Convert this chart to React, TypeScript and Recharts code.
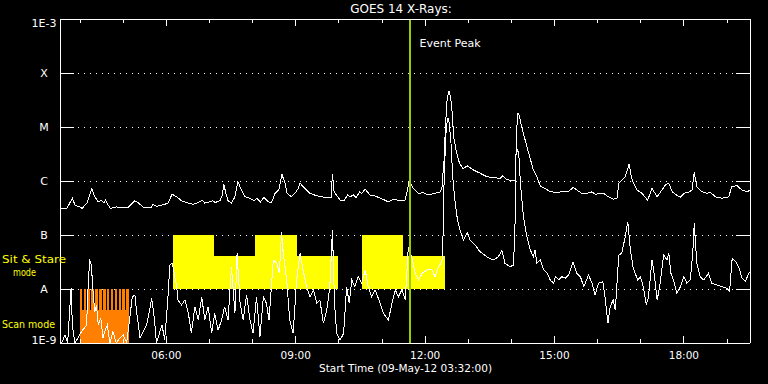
import React from 'react';
import {
  LineChart,
  Line,
  XAxis,
  YAxis,
  CartesianGrid,
  ReferenceArea,
  ReferenceLine,
} from 'recharts';

// ---- axes -------------------------------------------------------------
const X_DOMAIN: [number, number] = [3.5333, 19.5333]; // 03:32 -> 19:32 (hours of 09-May-12)
const HOUR_TICKS = [4, 5, 6, 7, 8, 9, 10, 11, 12, 13, 14, 15, 16, 17, 18, 19];
const MAJOR_HOURS = [6, 9, 12, 15, 18];
const FLUX_DOMAIN: [number, number] = [1e-9, 1e-3];
const FLUX_TICKS = [1e-9, 1e-8, 1e-7, 1e-6, 1e-5, 1e-4, 1e-3];
const FLUX_LABELS = ['1E-9', 'A', 'B', 'C', 'M', 'X', '1E-3'];

const TITLE = 'GOES 14 X-Rays:';
const X_TITLE = 'Start Time (09-May-12 03:32:00)';
const EVENT_PEAK_TIME = 11.64;
const EVENT_PEAK_LABEL = 'Event Peak';

// ---- instrument modes ------------------------------------------------------
const SIT_STARE_TALL: [number, number][] = [
  [6.15, 7.1],
  [8.06, 9.03],
  [10.54, 11.49],
];
const SIT_STARE_LOW: [number, number][] = [
  [7.1, 8.06],
  [9.03, 9.98],
  [11.49, 12.47],
];
const SIT_STARE_BASE = 1e-8;
const SIT_STARE_TALL_TOP = 1e-7;
const SIT_STARE_LOW_TOP = 4.1e-8;

const SCAN_SPAN: [number, number] = [3.99, 5.13];
const SCAN_TEETH: [number, number][] = [
  [3.99, 4.05], [4.08, 4.14], [4.17, 4.23], [4.26, 4.32], [4.35, 4.41],
  [4.44, 4.5], [4.53, 4.59], [4.62, 4.68], [4.71, 4.77], [4.8, 4.86],
  [4.89, 4.95], [4.98, 5.04], [5.07, 5.13],
];
const SCAN_BASE = 1e-9;
const SCAN_SOLID_TOP = 4.1e-9;
const SCAN_TOOTH_TOP = 1e-8;

// ---- X-ray flux (W/m^2): [hour, flux] ---------------------------------------
const LONG_CHANNEL: [number, number][] = [
  [3.55, 3.1e-7], [3.69, 3.1e-7], [3.76, 3.9e-7], [3.82, 4.8e-7], [3.88, 3.6e-7], [3.99, 3.3e-7],
  [4.05, 3.1e-7], [4.11, 3.6e-7], [4.16, 3.9e-7], [4.27, 7.3e-7], [4.34, 5.1e-7], [4.42, 4.1e-7],
  [4.5, 4.4e-7], [4.55, 3.9e-7], [4.59, 4.4e-7], [4.65, 3.6e-7], [4.7, 3.1e-7], [4.84, 3.3e-7],
  [5.11, 3.2e-7], [5.27, 4.3e-7], [5.34, 4.0e-7], [5.46, 3.3e-7], [5.65, 3.3e-7], [5.69, 3.7e-7],
  [5.77, 3.4e-7], [5.96, 3.7e-7], [6.04, 3.9e-7], [6.13, 5.7e-7], [6.24, 5.1e-7], [6.35, 4.3e-7],
  [6.51, 3.9e-7], [6.62, 3.7e-7], [6.74, 4.0e-7], [6.84, 4.4e-7], [6.89, 3.9e-7], [6.99, 4.1e-7],
  [7.07, 4.3e-7], [7.13, 4.0e-7], [7.24, 4.3e-7], [7.3, 5.5e-7], [7.33, 8.8e-7], [7.38, 5.9e-7],
  [7.43, 4.3e-7], [7.51, 3.9e-7], [7.59, 5.1e-7], [7.66, 9.7e-7], [7.74, 6.8e-7], [7.82, 5.1e-7],
  [7.94, 4.8e-7], [8.03, 4.3e-7], [8.1, 4.8e-7], [8.18, 4.1e-7], [8.26, 5.0e-7], [8.36, 4.1e-7],
  [8.44, 4.0e-7], [8.52, 5.9e-7], [8.61, 7.0e-7], [8.68, 1.33e-6], [8.75, 9.1e-7], [8.8, 5.9e-7],
  [8.9, 5.1e-7], [8.98, 5.9e-7], [9.06, 7.3e-7], [9.1, 9.1e-7], [9.21, 7.3e-7], [9.33, 5.9e-7],
  [9.49, 5.3e-7], [9.72, 4.9e-7], [9.82, 4.9e-7], [9.85, 1.35e-6], [9.89, 6.3e-7], [10.03, 4.4e-7],
  [10.12, 4.3e-7], [10.2, 5.5e-7], [10.26, 5.1e-7], [10.34, 5.5e-7], [10.4, 4.9e-7], [10.48, 6.3e-7],
  [10.53, 5.9e-7], [10.61, 7.1e-7], [10.72, 5.5e-7], [10.84, 5.3e-7], [10.96, 4.8e-7], [11.07, 4.4e-7],
  [11.15, 4.1e-7], [11.26, 4.6e-7], [11.38, 4.4e-7], [11.53, 4.4e-7], [11.59, 6.8e-7], [11.63, 9.7e-7],
  [11.73, 7.3e-7], [11.84, 5.9e-7], [11.96, 6.1e-7], [12.07, 5.5e-7], [12.23, 5.9e-7], [12.35, 6.3e-7],
  [12.39, 7.3e-7], [12.42, 1.6e-6], [12.44, 2.4e-6], [12.47, 1.0e-5], [12.51, 3.2e-5], [12.55, 4.7e-5],
  [12.59, 3.6e-5], [12.63, 1.8e-5], [12.66, 6.6e-6], [12.73, 3.3e-6], [12.8, 2.1e-6], [12.88, 1.7e-6],
  [12.98, 1.9e-6], [13.12, 1.6e-6], [13.27, 1.4e-6], [13.43, 1.2e-6], [13.62, 1.15e-6], [13.74, 1.12e-6],
  [13.8, 1.24e-6], [13.88, 1.07e-6], [14.05, 1.01e-6], [14.09, 1.01e-6], [14.11, 3.7e-6], [14.14, 1.8e-5],
  [14.17, 1.8e-5], [14.24, 1.0e-5], [14.32, 5.7e-6], [14.4, 3.3e-6], [14.51, 1.6e-6], [14.59, 1.2e-6],
  [14.67, 8.1e-7], [14.78, 7.3e-7], [14.9, 6.3e-7], [15.05, 6.2e-7], [15.21, 6.3e-7], [15.32, 6.3e-7],
  [15.43, 7.6e-7], [15.52, 6.8e-7], [15.63, 5.9e-7], [15.75, 5.9e-7], [15.87, 6.3e-7], [15.94, 5.7e-7],
  [16.14, 5.9e-7], [16.25, 5.1e-7], [16.37, 4.6e-7], [16.45, 4.8e-7], [16.49, 9.1e-7], [16.56, 1.04e-6],
  [16.64, 1.2e-6], [16.68, 1.49e-6], [16.73, 2.1e-6], [16.78, 1.2e-6], [16.83, 9.1e-7], [16.91, 6.8e-7],
  [17.03, 5.9e-7], [17.16, 4.4e-7], [17.26, 7.3e-7], [17.38, 5.1e-7], [17.49, 6.8e-7], [17.57, 8.4e-7],
  [17.65, 9.1e-7], [17.73, 6.3e-7], [17.83, 5.5e-7], [17.92, 5.0e-7], [18.0, 5.9e-7], [18.11, 6.2e-7],
  [18.19, 6.8e-7], [18.24, 1.45e-6], [18.3, 7.8e-7], [18.42, 6.3e-7], [18.54, 5.9e-7], [18.61, 6.2e-7],
  [18.73, 5.1e-7], [18.88, 4.8e-7], [19.04, 5.1e-7], [19.11, 7.8e-7], [19.23, 8.2e-7], [19.35, 6.8e-7],
  [19.46, 6.3e-7], [19.54, 6.8e-7],
];

const SHORT_CHANNEL: [number, number][] = [
  [3.57, 1.0e-9], [3.65, 1.41e-9], [3.71, 1.0e-9], [3.79, 1.03e-8], [3.82, 2.15e-9], [3.88, 1.0e-9],
  [3.95, 1.24e-9], [4.03, 1.62e-9], [4.15, 2.15e-9], [4.18, 8.9e-9], [4.22, 3.55e-8], [4.26, 2.78e-8],
  [4.3, 8.9e-9], [4.34, 3.8e-9], [4.38, 5.06e-9], [4.42, 2.15e-9], [4.48, 2.87e-9], [4.53, 1.22e-9],
  [4.57, 1.62e-9], [4.63, 2.15e-9], [4.69, 1.0e-9], [4.76, 1.62e-9], [4.84, 1.0e-9], [4.92, 1.24e-9],
  [5.0, 1.41e-9], [5.08, 1.0e-9], [5.15, 2.87e-9], [5.21, 7.2e-9], [5.27, 7.74e-9], [5.31, 3.8e-9],
  [5.39, 1.24e-9], [5.46, 1.62e-9], [5.54, 2.15e-9], [5.62, 4.4e-9], [5.66, 6.7e-9], [5.72, 2.87e-9],
  [5.77, 1.0e-9], [5.85, 1.62e-9], [5.9, 2.15e-9], [5.96, 1.14e-9], [6.03, 5.8e-9], [6.08, 2.78e-8],
  [6.13, 2.99e-8], [6.16, 2.42e-8], [6.24, 1.1e-8], [6.27, 6.25e-9], [6.35, 5.06e-9], [6.43, 6.25e-9],
  [6.51, 3.55e-9], [6.58, 1.51e-9], [6.66, 4.7e-9], [6.74, 2.67e-9], [6.82, 7.2e-9], [6.89, 2.67e-9],
  [6.97, 4.7e-9], [7.05, 1.51e-9], [7.12, 3.55e-9], [7.2, 1.74e-9], [7.28, 2.67e-9], [7.35, 4.7e-9],
  [7.43, 2.67e-9], [7.51, 2.59e-8], [7.59, 3.55e-9], [7.64, 4.58e-8], [7.71, 5.43e-9], [7.78, 2.67e-9],
  [7.86, 7.74e-9], [7.94, 2.67e-9], [8.01, 1.51e-9], [8.09, 7.2e-9], [8.17, 1.31e-9], [8.25, 7.2e-9],
  [8.32, 5.43e-9], [8.38, 2.67e-9], [8.48, 3.44e-8], [8.56, 2.99e-8], [8.62, 1.95e-8], [8.67, 1.15e-7],
  [8.71, 4.58e-8], [8.79, 1.47e-8], [8.86, 2.67e-9], [8.94, 1.51e-9], [9.02, 1.47e-8], [9.1, 4.58e-8],
  [9.17, 2.25e-8], [9.25, 1.1e-8], [9.33, 7.2e-9], [9.41, 9.6e-9], [9.49, 5.43e-9], [9.56, 6.25e-9],
  [9.64, 2.32e-9], [9.72, 4.08e-9], [9.79, 1.1e-8], [9.85, 1.24e-7], [9.9, 5.43e-9], [9.95, 1.51e-9],
  [10.03, 1.14e-9], [10.11, 1.51e-9], [10.18, 1.1e-8], [10.24, 5.43e-9], [10.3, 1.47e-8], [10.37, 1.1e-8],
  [10.45, 1.69e-8], [10.53, 1.28e-8], [10.61, 2.25e-8], [10.68, 1.1e-8], [10.76, 7.2e-9], [10.84, 9.6e-9],
  [10.96, 5.43e-9], [11.03, 3.55e-9], [11.15, 2.67e-9], [11.23, 5.43e-9], [11.31, 9.6e-9], [11.38, 7.2e-9],
  [11.46, 9.6e-9], [11.54, 6.25e-9], [11.61, 6.0e-8], [11.69, 3.96e-8], [11.77, 1.95e-8], [11.85, 1.47e-8],
  [11.93, 1.95e-8], [12.04, 2.25e-8], [12.16, 2.25e-8], [12.23, 1.69e-8], [12.31, 2.59e-8], [12.39, 3.2e-8],
  [12.43, 1.9e-7], [12.44, 1.2e-6], [12.49, 1.0e-5], [12.53, 1.45e-5], [12.56, 1.17e-5], [12.6, 5.0e-6],
  [12.64, 1.2e-6], [12.69, 4.45e-7], [12.75, 1.9e-7], [12.81, 1.24e-7], [12.89, 8.07e-8], [12.98, 1.1e-7],
  [13.04, 8.07e-8], [13.16, 6.53e-8], [13.27, 4.91e-8], [13.43, 3.96e-8], [13.58, 3.44e-8], [13.7, 3.96e-8],
  [13.78, 5.27e-8], [13.85, 2.99e-8], [13.97, 2.59e-8], [14.05, 2.78e-8], [14.09, 2.18e-7], [14.11, 4.2e-6],
  [14.17, 3.3e-6], [14.21, 9.06e-7], [14.28, 2.18e-7], [14.36, 9.3e-8], [14.44, 5.27e-8], [14.51, 3.96e-8],
  [14.55, 5.27e-8], [14.59, 2.99e-8], [14.67, 3.44e-8], [14.75, 2.25e-8], [14.83, 1.95e-8], [14.9, 1.47e-8],
  [14.98, 1.28e-8], [15.02, 1.69e-8], [15.1, 1.47e-8], [15.17, 1.69e-8], [15.25, 1.58e-8], [15.33, 1.82e-8],
  [15.43, 3.2e-8], [15.52, 1.95e-8], [15.6, 1.69e-8], [15.68, 1.1e-8], [15.79, 1.82e-8], [15.87, 1.28e-8],
  [15.94, 7.74e-9], [16.02, 1.28e-8], [16.12, 1.37e-8], [16.18, 6.25e-9], [16.24, 2.32e-9], [16.29, 4.7e-9],
  [16.36, 6.25e-9], [16.41, 4.08e-9], [16.49, 4.26e-8], [16.56, 4.58e-8], [16.64, 9.3e-8], [16.7, 1.76e-7],
  [16.76, 5.27e-8], [16.82, 2.59e-8], [16.87, 1.95e-8], [16.93, 1.47e-8], [16.99, 1.69e-8], [17.06, 1.1e-8],
  [17.13, 5.06e-9], [17.18, 7.2e-9], [17.26, 3.44e-8], [17.31, 1.95e-8], [17.38, 6.25e-9], [17.44, 1.1e-8],
  [17.53, 4.26e-8], [17.61, 3.44e-8], [17.65, 4.58e-8], [17.7, 1.95e-8], [17.76, 1.47e-8], [17.84, 8.3e-9],
  [17.92, 1.1e-8], [18.0, 1.69e-8], [18.07, 1.28e-8], [18.15, 1.47e-8], [18.21, 5.27e-8], [18.24, 1.65e-7],
  [18.3, 2.99e-8], [18.38, 1.69e-8], [18.46, 1.47e-8], [18.57, 1.95e-8], [18.65, 1.28e-8], [18.77, 1.19e-8],
  [18.88, 1.1e-8], [19.0, 1.03e-8], [19.06, 8.9e-9], [19.12, 3.7e-8], [19.2, 3.2e-8], [19.27, 2.59e-8],
  [19.35, 1.58e-8], [19.43, 1.37e-8], [19.5, 1.95e-8], [19.54, 2.09e-8],
];

// ---- styling ---------------------------------------------------------------
const FONT = 'DejaVu Sans';
const WHITE = '#ffffff';
const YELLOW = '#ffff00';
const ORANGE = '#ff8000';
const GREEN = '#99cc00';

const longData = LONG_CHANNEL.map(([t, flux]) => ({ t, flux }));
const shortData = SHORT_CHANNEL.map(([t, flux]) => ({ t, flux }));

const hourLabel = (h: number) => `${String(h).padStart(2, '0')}:00`;
const fluxLabel = (v: number) => {
  const i = FLUX_TICKS.findIndex((f) => Math.abs(Math.log10(f) - Math.log10(v)) < 1e-6);
  return i >= 0 ? FLUX_LABELS[i] : '';
};

const BottomTick = (props: any) => {
  const { x, y, payload } = props;
  const major = MAJOR_HOURS.includes(payload.value);
  return (
    <g>
      <line x1={x} x2={x} y1={y} y2={y - (major ? 7 : 4)} stroke={WHITE} />
      {major && (
        <text x={x} y={y + 16} textAnchor="middle" fill={WHITE} fontSize={10.5} fontFamily={FONT}>
          {hourLabel(payload.value)}
        </text>
      )}
    </g>
  );
};

const TopTick = (props: any) => {
  const { x, y, payload } = props;
  const major = MAJOR_HOURS.includes(payload.value);
  return <line x1={x} x2={x} y1={y} y2={y + (major ? 7 : 4)} stroke={WHITE} />;
};

const LeftTick = (props: any) => {
  const { x, y, payload, index } = props;
  const last = FLUX_TICKS.length - 1;
  const dy = index === last ? 8 : index === 0 ? 1 : 4;
  return (
    <g>
      <line x1={x} x2={x + 14} y1={y} y2={y} stroke={WHITE} />
      <text x={x - 16} y={y + dy} textAnchor="middle" fill={WHITE} fontSize={11} fontFamily={FONT}>
        {fluxLabel(payload.value)}
      </text>
    </g>
  );
};

const RightTick = (props: any) => {
  const { x, y } = props;
  return <line x1={x - 14} x2={x} y1={y} y2={y} stroke={WHITE} />;
};

const EventLabel = (props: any) => {
  const vb = props.viewBox;
  if (!vb) return null;
  return (
    <text x={vb.x + 10} y={vb.y + 28} fill={WHITE} fontSize={11} fontFamily={FONT}>
      {EVENT_PEAK_LABEL}
    </text>
  );
};

export default function App() {
  return (
    <div
      className="goes-root"
      style={{ position: 'absolute', left: 0, top: 0, width: 768, height: 384, background: '#000', overflow: 'hidden' }}
    >
      <style>{`.goes-root svg line, .goes-root svg path, .goes-root svg rect { shape-rendering: crispEdges; }`}</style>
      <LineChart width={768} height={384} margin={{ top: 0, right: 0, bottom: 0, left: 0 }} style={{ background: '#000' }}>
        <XAxis
          xAxisId={0}
          dataKey="t"
          type="number"
          domain={X_DOMAIN}
          allowDataOverflow
          ticks={HOUR_TICKS}
          interval={0}
          height={41}
          tickSize={0}
          tickMargin={0}
          tickLine={false}
          axisLine={{ stroke: WHITE }}
          tick={<BottomTick />}
        />
        <XAxis
          xAxisId="top"
          orientation="top"
          dataKey="t"
          type="number"
          domain={X_DOMAIN}
          allowDataOverflow
          ticks={HOUR_TICKS}
          interval={0}
          height={19}
          tickSize={0}
          tickMargin={0}
          tickLine={false}
          axisLine={{ stroke: WHITE }}
          tick={<TopTick />}
        />
        <YAxis
          yAxisId={0}
          scale="log"
          type="number"
          domain={FLUX_DOMAIN}
          allowDataOverflow
          ticks={FLUX_TICKS}
          interval={0}
          width={60}
          tickSize={0}
          tickMargin={0}
          tickLine={false}
          axisLine={{ stroke: WHITE }}
          tick={<LeftTick />}
        />
        <YAxis
          yAxisId="right"
          orientation="right"
          scale="log"
          type="number"
          domain={FLUX_DOMAIN}
          allowDataOverflow
          ticks={FLUX_TICKS}
          interval={0}
          width={18}
          tickSize={0}
          tickMargin={0}
          tickLine={false}
          axisLine={{ stroke: WHITE }}
          tick={<RightTick />}
        />
        <CartesianGrid vertical={false} stroke={WHITE} strokeDasharray="1 5" />

        <ReferenceArea
          x1={SCAN_SPAN[0]}
          x2={SCAN_SPAN[1]}
          y1={SCAN_BASE}
          y2={SCAN_SOLID_TOP}
          fill={ORANGE}
          fillOpacity={1}
          stroke="none"
        />
        {SCAN_TEETH.map(([a, b], i) => (
          <ReferenceArea
            key={`scan-${i}`}
            x1={a}
            x2={b}
            y1={SCAN_SOLID_TOP}
            y2={SCAN_TOOTH_TOP}
            fill={ORANGE}
            fillOpacity={1}
            stroke="none"
          />
        ))}
        {SIT_STARE_TALL.map(([a, b], i) => (
          <ReferenceArea
            key={`tall-${i}`}
            x1={a}
            x2={b}
            y1={SIT_STARE_BASE}
            y2={SIT_STARE_TALL_TOP}
            fill={YELLOW}
            fillOpacity={1}
            stroke="none"
          />
        ))}
        {SIT_STARE_LOW.map(([a, b], i) => (
          <ReferenceArea
            key={`low-${i}`}
            x1={a}
            x2={b}
            y1={SIT_STARE_BASE}
            y2={SIT_STARE_LOW_TOP}
            fill={YELLOW}
            fillOpacity={1}
            stroke="none"
          />
        ))}

        <Line
          data={shortData}
          dataKey="flux"
          type="linear"
          stroke={WHITE}
          strokeWidth={1}
          dot={false}
          activeDot={false}
          isAnimationActive={false}
        />
        <Line
          data={longData}
          dataKey="flux"
          type="linear"
          stroke={WHITE}
          strokeWidth={1}
          dot={false}
          activeDot={false}
          isAnimationActive={false}
        />
        <ReferenceLine x={EVENT_PEAK_TIME} stroke={GREEN} strokeWidth={2} label={EventLabel} />
      </LineChart>

      <svg
        width={768}
        height={384}
        style={{ position: 'absolute', left: 0, top: 0, pointerEvents: 'none' }}
      >
        <text x={401} y={13} textAnchor="middle" fill={WHITE} fontSize={12} fontFamily={FONT}>
          {TITLE}
        </text>
        <text x={319} y={372} fill={WHITE} fontSize={10.5} fontFamily={FONT} textLength={173} lengthAdjust="spacingAndGlyphs">
          {X_TITLE}
        </text>
        <text x={2} y={263} fill={YELLOW} fontSize={10.5} fontFamily={FONT} textLength={64} lengthAdjust="spacingAndGlyphs">
          Sit &amp; Stare
        </text>
        <text x={13} y={276} fill={YELLOW} fontSize={10.5} fontFamily={FONT} textLength={23} lengthAdjust="spacingAndGlyphs">
          mode
        </text>
        <text x={2} y={328} fill={YELLOW} fontSize={10.5} fontFamily={FONT} textLength={53} lengthAdjust="spacingAndGlyphs">
          Scan mode
        </text>
      </svg>
    </div>
  );
}
